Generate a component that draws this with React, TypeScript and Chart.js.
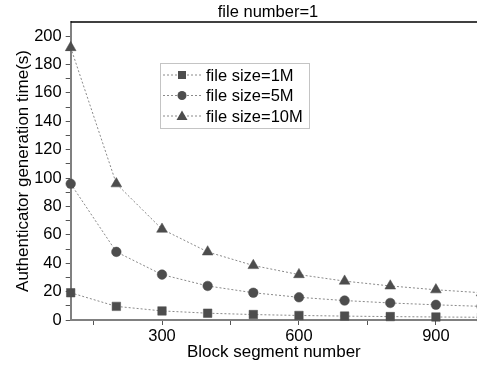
import React, { useEffect, useRef } from 'react';
import { Chart, registerables } from 'chart.js';

Chart.register(...registerables);

const blockSegments = [100, 200, 300, 400, 500, 600, 700, 800, 900, 1000];
const size1M = [19.2, 9.6, 6.4, 4.8, 3.84, 3.2, 2.74, 2.4, 2.13, 1.92];
const size5M = [96, 48, 32, 24, 19.2, 16, 13.7, 12, 10.7, 9.6];
const size10M = [192, 96, 64, 48, 38.4, 32, 27.4, 24, 21.3, 19.2];
const seriesLabels = ['file size=1M', 'file size=5M', 'file size=10M'];
const seriesMarkers = ['rect', 'circle', 'triangle'];
const xTickValues = [150, 300, 450, 600, 750, 900];
const xTickLabels = ['', '300', '', '600', '', '900'];
const yTickValues = [0, 10, 20, 30, 40, 50, 60, 70, 80, 90, 100, 110, 120, 130, 140, 150, 160, 170, 180, 190, 200];
const yTickLabels = ['0', '', '20', '', '40', '', '60', '', '80', '', '100', '', '120', '', '140', '', '160', '', '180', '', '200'];
const chartTitle = 'file number=1';
const xTitle = 'Block segment number';
const yTitle = 'Authenticator generation time(s)';

const FONT = '"Liberation Sans", Arial, sans-serif';
const LINE_COLOR = '#8a8a8a';
const MARK_COLOR = '#4d4d4d';

function drawMarker(ctx: CanvasRenderingContext2D, style: string, x: number, y: number) {
  ctx.fillStyle = MARK_COLOR;
  ctx.beginPath();
  if (style === 'rect') {
    ctx.rect(x - 4, y - 4, 8, 8);
  } else if (style === 'circle') {
    ctx.arc(x, y, 4.5, 0, Math.PI * 2);
  } else {
    ctx.moveTo(x, y - 5.5);
    ctx.lineTo(x + 5.5, y + 4);
    ctx.lineTo(x - 5.5, y + 4);
    ctx.closePath();
  }
  ctx.fill();
}

const decorPlugin = {
  id: 'decor',
  afterDraw(chart: any) {
    const ctx: CanvasRenderingContext2D = chart.ctx;
    const area = chart.chartArea;
    ctx.save();
    // top border
    ctx.strokeStyle = '#000';
    ctx.lineWidth = 1.5;
    ctx.beginPath();
    ctx.moveTo(area.left, area.top);
    ctx.lineTo(area.right, area.top);
    ctx.stroke();
    // title
    ctx.fillStyle = '#000';
    ctx.font = `16.5px ${FONT}`;
    ctx.textAlign = 'center';
    ctx.textBaseline = 'middle';
    ctx.fillText(chartTitle, 268, 12);
    // legend
    const bx = 160.5, by = 63.5, bw = 149, bh = 65;
    ctx.fillStyle = '#fff';
    ctx.fillRect(bx, by, bw, bh);
    ctx.strokeStyle = '#c4c4c4';
    ctx.lineWidth = 1;
    ctx.strokeRect(bx, by, bw, bh);
    ctx.font = `16.5px ${FONT}`;
    ctx.textAlign = 'left';
    seriesLabels.forEach((label, i) => {
      const y = 75 + i * 20.5;
      ctx.strokeStyle = LINE_COLOR;
      ctx.setLineDash([2, 2]);
      ctx.beginPath();
      ctx.moveTo(163, y);
      ctx.lineTo(201, y);
      ctx.stroke();
      ctx.setLineDash([]);
      drawMarker(ctx, seriesMarkers[i], 182, y);
      ctx.fillStyle = '#000';
      ctx.fillText(label, 206, y + 1);
    });
    ctx.restore();
  },
};

export default function App() {
  const canvasRef = useRef<HTMLCanvasElement | null>(null);

  useEffect(() => {
    const canvas = canvasRef.current;
    if (!canvas) return;
    const mk = (values: number[], i: number) => ({
      label: seriesLabels[i],
      data: blockSegments.map((x, j) => ({ x, y: values[j] })),
      borderColor: LINE_COLOR,
      borderWidth: 1,
      borderDash: [2, 2],
      pointStyle: seriesMarkers[i] as any,
      pointRadius: i === 0 ? 6 : i === 1 ? 4.8 : 6.2,
      pointBackgroundColor: MARK_COLOR,
      pointBorderColor: MARK_COLOR,
      pointBorderWidth: 0.5,
      tension: 0,
      fill: false,
      clip: { left: 10, top: 10, right: 0, bottom: 10 } as any,
    });
    const chart = new Chart(canvas, {
      type: 'line',
      data: {
        datasets: [mk(size1M, 0), mk(size5M, 1), mk(size10M, 2)],
      },
      options: {
        animation: false,
        responsive: false,
        devicePixelRatio: 1,
        layout: { autoPadding: false, padding: { top: 22, right: 0, left: 0, bottom: 0 } },
        plugins: {
          legend: { display: false },
          title: { display: false },
          tooltip: { enabled: false },
        },
        scales: {
          x: {
            type: 'linear',
            min: 100,
            max: 990,
            afterBuildTicks: (scale: any) => {
              scale.ticks = xTickValues.map((v) => ({ value: v }));
            },
            afterFit: (scale: any) => {
              scale.height = 51;
            },
            ticks: {
              autoSkip: false,
              maxRotation: 0,
              padding: 2,
              color: '#000',
              font: { family: FONT, size: 16.5 },
              callback: (v: any) => xTickLabels[xTickValues.indexOf(Number(v))] ?? '',
            },
            grid: { display: true, drawOnChartArea: false, drawTicks: true, tickLength: 5, color: '#555', lineWidth: 1 },
            border: { display: true, color: '#808080', width: 2 },
            title: {
              display: true,
              text: xTitle,
              color: '#000',
              font: { family: FONT, size: 17 },
              padding: { top: 0, bottom: 8 },
            },
          },
          y: {
            type: 'linear',
            min: 0,
            max: 210,
            afterBuildTicks: (scale: any) => {
              scale.ticks = yTickValues.map((v) => ({ value: v }));
            },
            afterFit: (scale: any) => {
              scale.width = 70.7;
            },
            ticks: {
              autoSkip: false,
              padding: 4,
              color: '#000',
              font: { family: FONT, size: 16.5 },
              callback: (v: any) => yTickLabels[yTickValues.indexOf(Number(v))] ?? '',
            },
            grid: { display: true, drawOnChartArea: false, drawTicks: true, tickLength: 5, color: '#555', lineWidth: 1 },
            border: { display: true, color: '#808080', width: 2 },
            title: {
              display: true,
              text: yTitle,
              color: '#000',
              font: { family: FONT, size: 17 },
              padding: { top: 13, bottom: 0 },
            },
          },
        },
      },
      plugins: [decorPlugin],
    });
    return () => chart.destroy();
  }, []);

  return (
    <div style={{ position: 'fixed', left: 0, top: 0, width: 477, height: 371, background: '#fff' }}>
      <canvas ref={canvasRef} width={477} height={371} style={{ width: 477, height: 371, display: 'block' }} />
    </div>
  );
}
